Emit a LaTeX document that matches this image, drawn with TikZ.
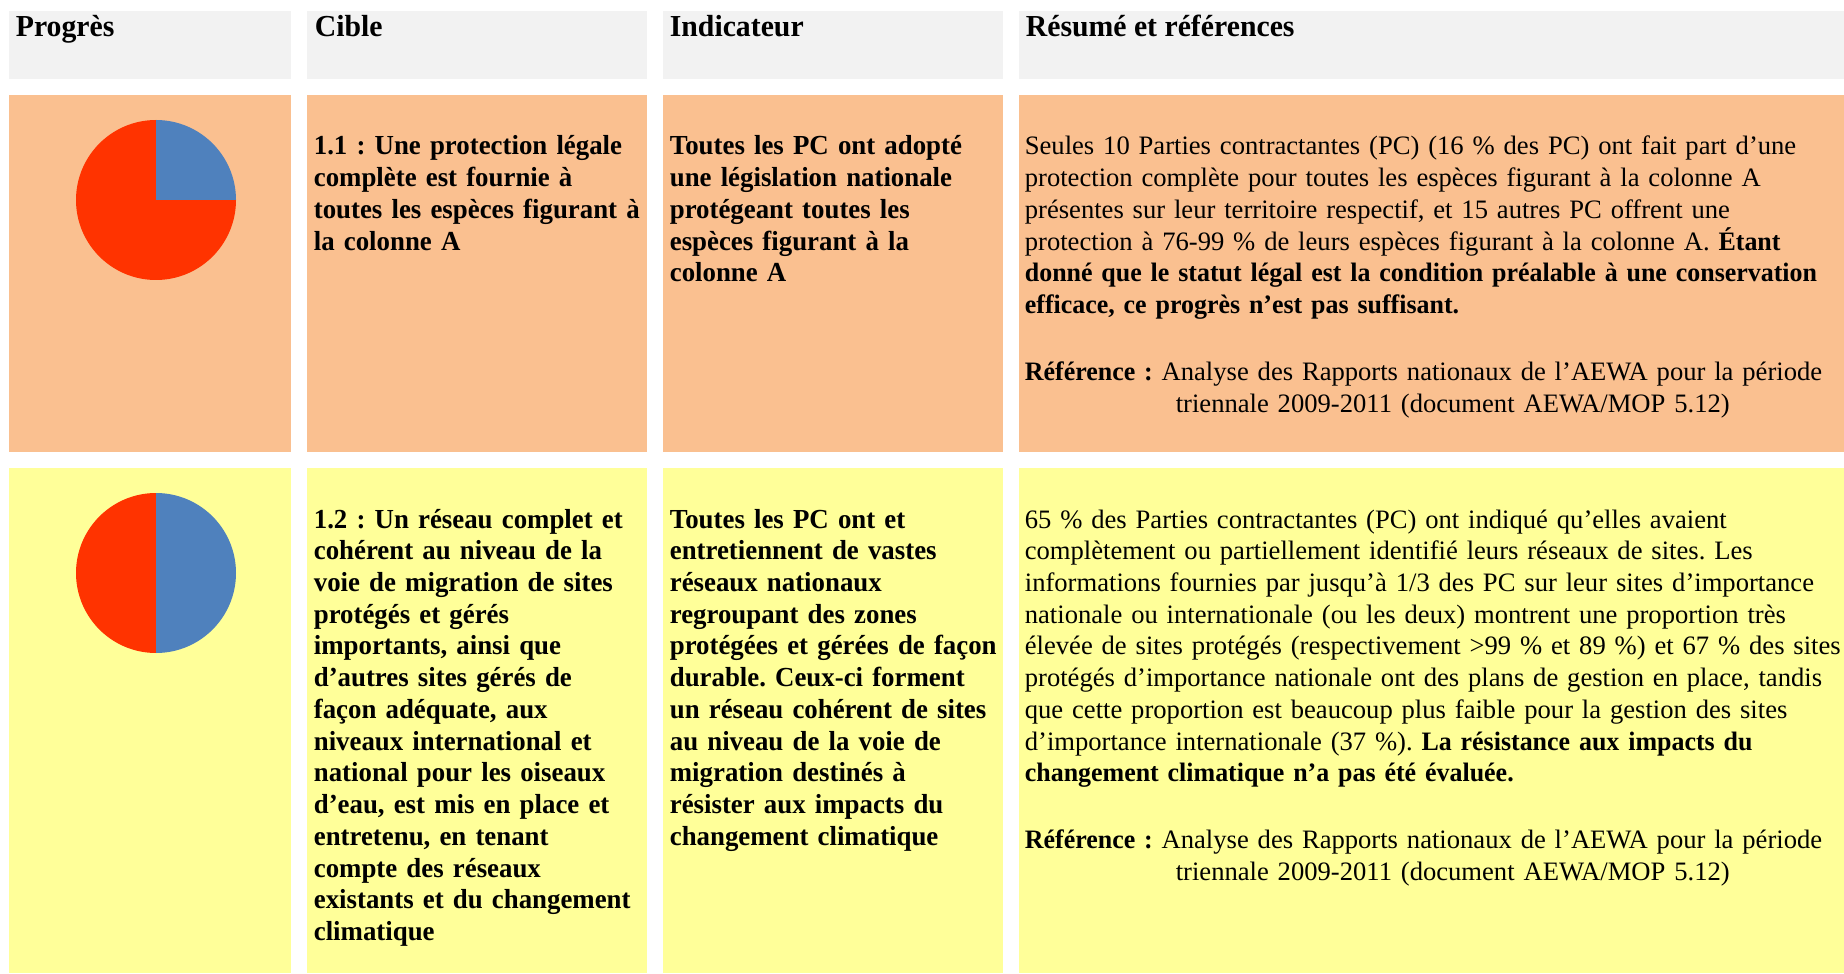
\documentclass[tikz,border=0pt]{standalone}
\usepackage{fontspec}
\setmainfont{Liberation Serif}[BoldFeatures={FakeStretch=0.975}]

\definecolor{hdrgrey}{RGB}{242,242,242}
\definecolor{rowtan}{RGB}{250,192,144}
\definecolor{rowyellow}{RGB}{255,255,153}
\definecolor{piered}{RGB}{255,51,0}
\definecolor{pieblue}{RGB}{79,129,189}

\tikzset{every picture/.style={line width=0.75pt}}
\tikzset{
  hdrtxt/.style={anchor=base west, inner sep=0pt, font=\fontsize{13.3}{15}\selectfont\bfseries},
  celltxt/.style={anchor=base west, inner sep=0pt, align=left, font=\fontsize{11.6}{13.84}\selectfont\frenchspacing},
  boldtxt/.style={celltxt, font=\fontsize{12}{13.84}\selectfont\bfseries\frenchspacing},
}

\begin{document}
\begin{tikzpicture}[x=0.436pt,y=0.436pt,yscale=-1,xscale=1]
	\useasboundingbox (0,0) rectangle (1844,974);

	%Shape: Rectangle [header row]
	\draw [draw opacity=0][fill=hdrgrey] (9,11) -- (291,11) -- (291,79) -- (9,79) -- cycle ;
	\draw [draw opacity=0][fill=hdrgrey] (307,11) -- (647,11) -- (647,79) -- (307,79) -- cycle ;
	\draw [draw opacity=0][fill=hdrgrey] (663,11) -- (1003,11) -- (1003,79) -- (663,79) -- cycle ;
	\draw [draw opacity=0][fill=hdrgrey] (1019,11) -- (1844,11) -- (1844,79) -- (1019,79) -- cycle ;
	%Shape: Rectangle [row 1.1]
	\draw [draw opacity=0][fill=rowtan] (9,95) -- (291,95) -- (291,452) -- (9,452) -- cycle ;
	\draw [draw opacity=0][fill=rowtan] (307,95) -- (647,95) -- (647,452) -- (307,452) -- cycle ;
	\draw [draw opacity=0][fill=rowtan] (663,95) -- (1003,95) -- (1003,452) -- (663,452) -- cycle ;
	\draw [draw opacity=0][fill=rowtan] (1019,95) -- (1844,95) -- (1844,452) -- (1019,452) -- cycle ;
	%Shape: Rectangle [row 1.2]
	\draw [draw opacity=0][fill=rowyellow] (9,468) -- (291,468) -- (291,973) -- (9,973) -- cycle ;
	\draw [draw opacity=0][fill=rowyellow] (307,468) -- (647,468) -- (647,973) -- (307,973) -- cycle ;
	\draw [draw opacity=0][fill=rowyellow] (663,468) -- (1003,468) -- (1003,973) -- (663,973) -- cycle ;
	\draw [draw opacity=0][fill=rowyellow] (1019,468) -- (1844,468) -- (1844,973) -- (1019,973) -- cycle ;

	%Shape: Sector [pie 1.1]
	\draw [draw opacity=0][fill=piered] (156,200) -- (236,200) arc (0:270:80) -- cycle ;
	\draw [draw opacity=0][fill=pieblue] (156,200) -- (156,120) arc (-90:0:80) -- cycle ;
	%Shape: Sector [pie 1.2]
	\draw [draw opacity=0][fill=piered] (156,573) -- (156,653) arc (90:270:80) -- cycle ;
	\draw [draw opacity=0][fill=pieblue] (156,573) -- (156,493) arc (-90:90:80) -- cycle ;

	% Text Node
	\draw (15,37) node [hdrtxt] (hdrprog) {Progrès};
	% Text Node
	\draw (314,37) node [hdrtxt] (hdrcible) {Cible};
	% Text Node
	\draw (669,37) node [hdrtxt] (hdrind) {Indicateur};
	% Text Node
	\draw (1025,37) node [hdrtxt] (hdrres) {Résumé et références};

	% Text Node
	\draw (313,155) node [boldtxt, text width=165pt] (cible1) {1.1 : Une protection légale\\complète est fournie à\\toutes les espèces figurant à\\la colonne A};
	% Text Node
	\draw (669,155) node [boldtxt, text width=165pt] (ind1) {Toutes les PC ont adopté\\une législation nationale\\protégeant toutes les\\espèces figurant à la\\colonne A};
	% Text Node
	\draw (1024,155) node [celltxt, text width=390pt] (res1) {Seules 10 Parties contractantes (PC) (16 \% des PC) ont fait part d’une\\protection complète pour toutes les espèces figurant à la colonne A\\présentes sur leur territoire respectif, et 15 autres PC offrent une\\protection à 76-99 \% de leurs espèces figurant à la colonne A. \textbf{Étant\\donné que le statut légal est la condition préalable à une conservation\\efficace, ce progrès n’est pas suffisant.}\\[15.2pt]\textbf{Référence :} Analyse des Rapports nationaux de l’AEWA pour la période\\\hspace*{65.8pt}triennale 2009-2011 (document AEWA/MOP 5.12)};

	% Text Node
	\draw (313,528) node [boldtxt, text width=165pt] (cible2) {1.2 : Un réseau complet et\\cohérent au niveau de la\\voie de migration de sites\\protégés et gérés\\importants, ainsi que\\d’autres sites gérés de\\façon adéquate, aux\\niveaux international et\\national pour les oiseaux\\d’eau, est mis en place et\\entretenu, en tenant\\compte des réseaux\\existants et du changement\\climatique};
	% Text Node
	\draw (669,528) node [boldtxt, text width=165pt] (ind2) {Toutes les PC ont et\\entretiennent de vastes\\réseaux nationaux\\regroupant des zones\\protégées et gérées de façon\\durable. Ceux-ci forment\\un réseau cohérent de sites\\au niveau de la voie de\\migration destinés à\\résister aux impacts du\\changement climatique};
	% Text Node
	\draw (1024,528) node [celltxt, text width=390pt] (res2) {65 \% des Parties contractantes (PC) ont indiqué qu’elles avaient\\complètement ou partiellement identifié leurs réseaux de sites. Les\\informations fournies par jusqu’à 1/3 des PC sur leur sites d’importance\\nationale ou internationale (ou les deux) montrent une proportion très\\élevée de sites protégés (respectivement >99 \% et 89 \%) et 67 \% des sites\\protégés d’importance nationale ont des plans de gestion en place, tandis\\que cette proportion est beaucoup plus faible pour la gestion des sites\\d’importance internationale (37 \%). \textbf{La résistance aux impacts du\\changement climatique n’a pas été évaluée.}\\[15.2pt]\textbf{Référence :} Analyse des Rapports nationaux de l’AEWA pour la période\\\hspace*{65.8pt}triennale 2009-2011 (document AEWA/MOP 5.12)};

\end{tikzpicture}
\end{document}
